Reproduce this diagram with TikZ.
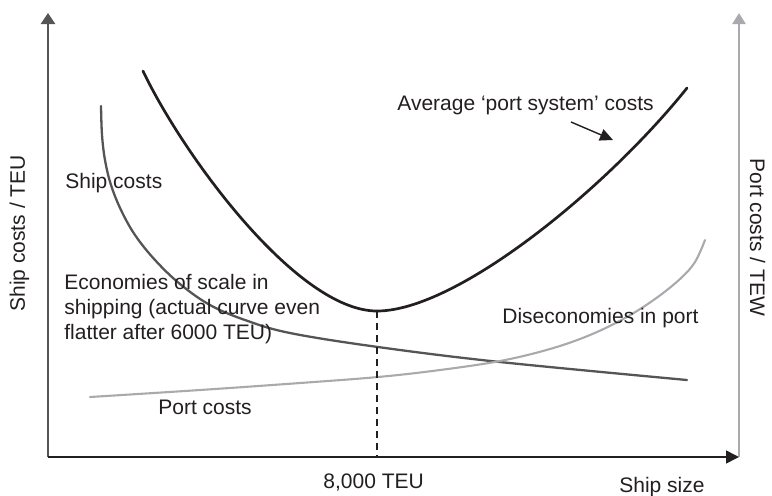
\documentclass[tikz,border=0pt]{standalone}
\usepackage{fontspec}
\setmainfont{Liberation Sans}
\usetikzlibrary{arrows.meta}
\definecolor{ink}{HTML}{231F20}
\definecolor{axisdark}{HTML}{555555}
\definecolor{axislight}{HTML}{AAAAAE}
\definecolor{shipcurve}{HTML}{555555}
\definecolor{portcurve}{HTML}{AAAAAE}
\begin{document}
\begin{tikzpicture}[x=0.5pt,y=-0.5pt,
  lbl/.style={font=\fontsize{10.5}{12.7}\selectfont, text=ink, inner sep=0pt},
  axisline/.style={line width=1.25pt},
  costcurve/.style={line cap=round},
  guide/.style={line width=0.6pt, ink, dash pattern=on 3.5pt off 2.5pt}]
\useasboundingbox (0,0) rectangle (772,495);

% axes
\coordinate (O) at (48,457);
\coordinate (ytop) at (48,13);
\coordinate (xend) at (739,457);
\coordinate (rbot) at (739,457);
\coordinate (rtop) at (739,13);
\draw[axisline, axislight, -{Triangle[length=5.5pt,width=6.5pt]}] (rbot) -- (rtop);
\draw[axisline, axisdark, -{Triangle[length=5.5pt,width=7pt]}] (O) -- (ytop);
\draw[line width=0.8pt, ink, -{Triangle[length=6.5pt,width=6.5pt]}] (O) -- (xend);

% average port system cost: U-shaped, minimum at the optimum ship size
\coordinate (avgL) at (143,71);
\coordinate (minpt) at (377,311);
\coordinate (avgR) at (687,88);
\draw[costcurve, line width=1.35pt, ink]
  (avgL) .. controls (183,155) and (297,311) .. (minpt)
         .. controls (457,311) and (607,188) .. (avgR);

% ship costs
\draw[costcurve, line width=1.15pt, shipcurve] plot[smooth, tension=0.6] coordinates {
  (101,106) (102,135) (105,160) (111,185) (121,210) (135,235) (155,260)
  (180,284) (210,305) (245,320) (290,333) (378,347) (500,362) (687,380)};

% port costs
\draw[costcurve, line width=1.05pt, portcurve] plot[smooth, tension=0.6] coordinates {
  (90,397) (200,390) (300,383) (378,377) (440,370) (500,361) (550,349)
  (590,335) (625,318) (655,299) (680,279) (695,262) (705,240)};

% optimum ship size
\coordinate (minfoot) at (377,457);
\draw[guide] (minpt) -- (minfoot);

% pointer to the average cost curve
\coordinate (ptrA) at (571,122);
\coordinate (ptrB) at (613,140);
\draw[line width=0.7pt, ink, -{Triangle[length=6.5pt,width=6pt]}] (ptrA) -- (ptrB);

% labels
\node[lbl, anchor=base west] (avg) at (397,110) {Average ‘port system’ costs};
\node[lbl, anchor=base west] (ship) at (65,188) {Ship costs};
\node[lbl, anchor=west, align=left] (eos) at (64,309)
  {Economies of scale in\\shipping (actual curve even\\flatter after 6000 TEU)};
\node[lbl, anchor=base west] (dis) at (502,323) {Diseconomies in port};
\node[lbl, anchor=base west] (port) at (158,414) {Port costs};
\node[lbl, anchor=base west] (teu) at (323,488) {8,000 TEU};
\node[lbl, anchor=base west] (size) at (619,492) {Ship size};
\node[lbl, anchor=base west, rotate=90] (ylab) at (25,312) {Ship costs / TEU};
\node[lbl, anchor=base west, rotate=-90] (rlab) at (750,158) {Port costs / TEW};
\end{tikzpicture}
\end{document}
